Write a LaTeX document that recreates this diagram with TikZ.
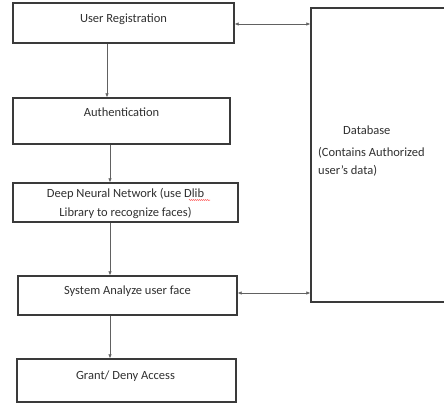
\documentclass[tikz,border=0pt]{standalone}
\usepackage{fontspec}
\setmainfont{Carlito}
\usetikzlibrary{arrows.meta,decorations.pathmorphing}
\definecolor{edge}{HTML}{3A3A3A}
\definecolor{txt}{HTML}{303030}
\tikzset{
  box/.style={draw=edge,line width=1.3pt,inner sep=0pt},
  lbl/.style={text=txt,font=\fontsize{12.5}{15.5}\selectfont,inner sep=0pt},
  conn/.style={draw=edge!80,line width=0.6pt,-{Latex[length=4pt,width=3.5pt]}},
  dconn/.style={draw=edge!80,line width=0.6pt,{Latex[length=4pt,width=3.5pt]}-{Latex[length=4pt,width=3.5pt]}},
}
\begin{document}
\begin{tikzpicture}[x=1pt,y=-1pt]
\useasboundingbox (0,0) rectangle (444,404);
\fill[white] (0,0) rectangle (444,404);
\clip (0,0) rectangle (444,404);
% boxes
\node[box,minimum width=221pt,minimum height=40pt] (b1) at (123.5,23) {};
\node[box,minimum width=217pt,minimum height=46pt] (b2) at (121.5,121) {};
\node[box,minimum width=225pt,minimum height=39pt] (b3) at (125.5,202.5) {};
\node[box,minimum width=219pt,minimum height=39pt] (b4) at (127.5,295.5) {};
\node[box,minimum width=219pt,minimum height=43pt] (b5) at (126.5,380.5) {};
\node[box,minimum width=150pt,minimum height=294pt] (db) at (386,155) {};
% labels
\node[lbl] (t1) at (123.5,19) {User Registration};
\node[lbl] (t2) at (121.5,112) {Authentication};
\node[lbl,align=center] (t3) at (125.5,203.5) {Deep Neural Network (use Dlib\\[3pt]Library to recognize faces)};
\node[lbl] (t4) at (127.5,291) {System Analyze user face};
\node[lbl] (t5) at (125.5,376) {Grant/ Deny Access};
\node[lbl,anchor=west] (t6) at (343,130) {Database};
\node[lbl,anchor=west,align=left] (t7) at (318,162) {(Contains Authorized\\[2pt]user's data)};
% spell-check squiggle
\draw[red!80,line width=0.5pt,decorate,decoration={snake,segment length=2pt,amplitude=0.5pt}] (189,200) -- (210,200);
% connectors
\coordinate (xa) at (107,0);
\coordinate (xb) at (110,0);
\draw[conn] (b1.south -| xa) -- (b2.north -| xa);
\draw[conn] (b2.south -| xb) -- (b3.north -| xb);
\draw[conn] (b3.south -| xb) -- (b4.north -| xb);
\draw[conn] (b4.south -| xb) -- (b5.north -| xb);
\coordinate (ya) at (0,24);
\coordinate (yb) at (0,293);
\draw[dconn] (b1.east |- ya) -- (db.west |- ya);
\draw[dconn] (b4.east |- yb) -- (db.west |- yb);
\end{tikzpicture}
\end{document}
